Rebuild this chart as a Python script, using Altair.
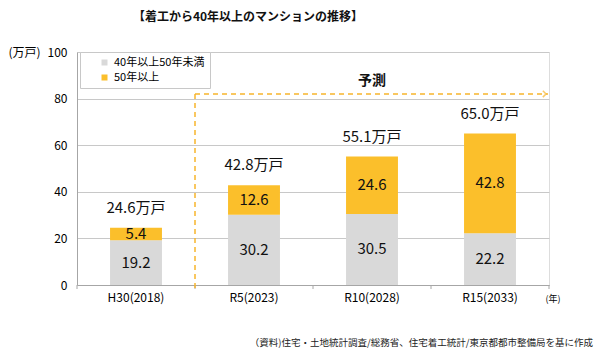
import altair as alt
import pandas as pd

# ---- data ----
categories = ["H30(2018)", "R5(2023)", "R10(2028)", "R15(2033)"]
series_names = ["40年以上50年未満", "50年以上"]
under50 = [19.2, 30.2, 30.5, 22.2]
over50 = [5.4, 12.6, 24.6, 42.8]
forecast_level = 82  # dashed forecast bracket height (value units)
title_text = "【着工から40年以上のマンションの推移】"
source_text = "（資料)住宅・土地統計調査/総務省、住宅着工統計/東京都都市整備局を基に作成"

GRAY = "#d9d9d9"
ORANGE = "#fbbf2b"
FONT = "Noto Sans CJK JP"

rows = []
for c, a, b in zip(categories, under50, over50):
    rows.append({"cat": c, "series": series_names[0], "value": a, "ord": 0,
                 "mid": a / 2, "label": f"{a:.1f}"})
    rows.append({"cat": c, "series": series_names[1], "value": b, "ord": 1,
                 "mid": a + b / 2, "label": f"{b:.1f}"})
df = pd.DataFrame(rows)

tot = pd.DataFrame({
    "cat": categories,
    "total": [a + b for a, b in zip(under50, over50)],
})
tot["label"] = tot["total"].map(lambda v: f"{v:.1f}万戸")

W, H = 472, 233

xscale = alt.Scale(domain=categories, paddingInner=0, paddingOuter=0)
yscale = alt.Scale(domain=[0, 100], nice=False)

base = alt.Chart(df)

bars = base.mark_bar(width={"band": 0.44}, strokeWidth=0).encode(
    x=alt.X("cat:N", scale=xscale, sort=categories,
            axis=alt.Axis(title="(年)", labelAngle=0, ticks=False, labelFontSize=12,
                          labelColor="#000", labelFont=FONT, labelPadding=7,
                          domainColor="#a6a6a6", titleFontSize=9, titleFontWeight="normal",
                          titleFont=FONT, titleX=W - 4, titleY=9, titleAlign="left",
                          titleColor="#000")),
    y=alt.Y("value:Q", stack="zero", scale=yscale,
            axis=alt.Axis(title="(万戸)", values=[0, 20, 40, 60, 80, 100], ticks=False,
                          labelFontSize=12, labelColor="#000", labelFont=FONT,
                          labelPadding=10, gridColor="#c8c8c8", domainColor="#a6a6a6",
                          titleAngle=0, titleX=-69, titleY=0, titleAlign="left",
                          titleBaseline="middle", titleFontSize=12, titleFont=FONT,
                          titleFontWeight="normal", titleColor="#000")),
    color=alt.Color("series:N", scale=alt.Scale(domain=series_names, range=[GRAY, ORANGE]),
                    legend=alt.Legend(title=None, orient="none", legendX=3, legendY=0,
                                      fillColor="white", strokeColor="#c8c8c8", padding=5,
                                      symbolType="square", symbolSize=36, symbolOffset=14,
                                      labelFontSize=11, labelFont=FONT, labelColor="#000",
                                      rowPadding=3)),
    order=alt.Order("ord:Q"),
)

seg_labels = base.mark_text(fontSize=15, font=FONT, color="#111").encode(
    x=alt.X("cat:N", scale=xscale, sort=categories),
    y=alt.Y("mid:Q", scale=yscale),
    text="label:N",
)

tot_labels = alt.Chart(tot).mark_text(fontSize=15, font=FONT, color="#111", dy=-20).encode(
    x=alt.X("cat:N", scale=xscale, sort=categories),
    y=alt.Y("total:Q", scale=yscale),
    text="label:N",
)

# tick marks at band boundaries
edge_ticks = alt.Chart(pd.DataFrame({"cat": categories})).mark_rule(color="#a6a6a6").encode(
    x=alt.X("cat:N", scale=xscale, sort=categories, bandPosition=0),
    y=alt.value(H), y2=alt.value(H + 4),
)
end_tick = alt.Chart(pd.DataFrame({"cat": [categories[-1]]})).mark_rule(color="#a6a6a6").encode(
    x=alt.X("cat:N", scale=xscale, sort=categories, bandPosition=1),
    y=alt.value(H), y2=alt.value(H + 4),
)

dash_color = "#f7b52c"
fc = pd.DataFrame({"cat": [categories[1]], "lvl": [forecast_level]})
vline = alt.Chart(fc).mark_rule(color=dash_color, strokeDash=[5, 4], strokeWidth=1.5).encode(
    x=alt.X("cat:N", scale=xscale, sort=categories, bandPosition=0),
    y=alt.Y("lvl:Q", scale=yscale), y2=alt.value(H + 3),
)
hline = alt.Chart(fc).mark_rule(color=dash_color, strokeDash=[5, 4], strokeWidth=1.5).encode(
    x=alt.X("cat:N", scale=xscale, sort=categories, bandPosition=0),
    x2=alt.value(W - 1),
    y=alt.Y("lvl:Q", scale=yscale),
)
arrow = alt.Chart(fc).mark_point(shape="M -1 -1 L 0 0 L -1 1", filled=False, size=40,
                                 color=dash_color, strokeWidth=1.5).encode(
    x=alt.value(W - 3),
    y=alt.Y("lvl:Q", scale=yscale),
)
fc_label = alt.Chart(pd.DataFrame({"cat": [categories[2]], "lvl": [forecast_level], "t": ["予測"]})).mark_text(
    fontSize=14, font=FONT, fontWeight="bold", color="#111", dy=-13).encode(
    x=alt.X("cat:N", scale=xscale, sort=categories),
    y=alt.Y("lvl:Q", scale=yscale),
    text="t:N",
)

src = alt.Chart(pd.DataFrame({"t": [source_text]})).mark_text(
    fontSize=9.5, font=FONT, color="#222", align="right", baseline="middle").encode(
    x=alt.value(W + 44), y=alt.value(H + 58), text="t:N",
)

chart = alt.layer(
    bars, seg_labels, tot_labels, edge_ticks, end_tick, vline, hline, arrow, fc_label, src
).properties(
    width=W, height=H,
    title=alt.TitleParams(title_text, fontSize=12, font=FONT, fontWeight="bold", color="#111",
                          anchor="middle", dx=-65, offset=22),
    autosize=alt.AutoSizeParams(type="none"),
    padding={"left": 69, "top": 44, "right": 45, "bottom": 70},
).configure_view(stroke=None).configure(background="white")

chart.save("out.html", embed_options={"renderer": "svg", "actions": False})
